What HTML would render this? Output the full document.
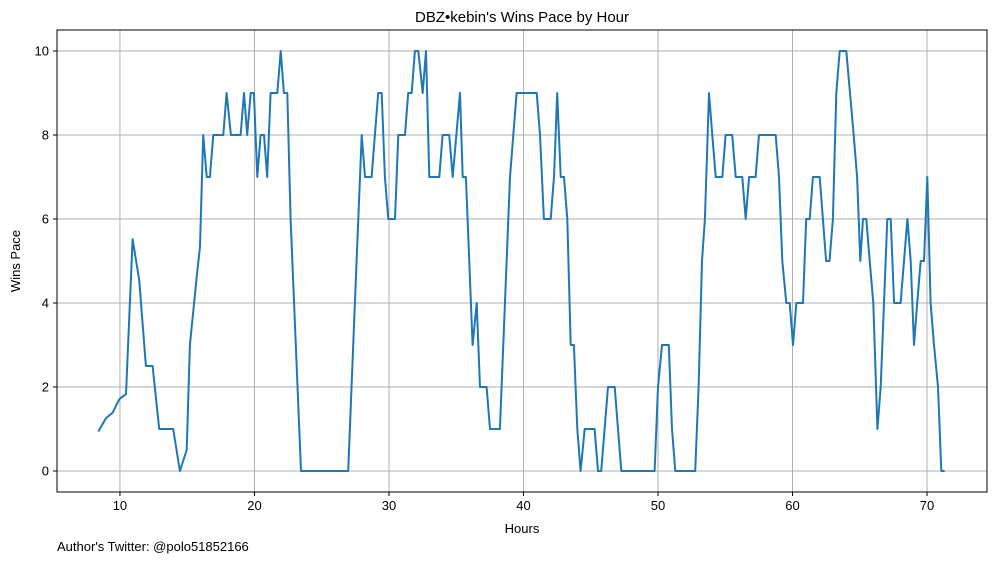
<!DOCTYPE html>
<html><head><meta charset="utf-8"><style>
body{margin:0;background:#fff;}
svg text{font-family:"Liberation Sans","DejaVu Sans",sans-serif;fill:#000;}
</style></head><body>
<svg id="chart" width="997" height="562" xmlns="http://www.w3.org/2000/svg">
<rect width="997" height="562" fill="#fff"/>
<g id="grid"></g>
<g id="ticks"></g>
<polyline id="line" fill="none" stroke="#1f77b4" stroke-width="2" stroke-linejoin="round"/>
<rect x="57" y="30" width="930" height="462" fill="none" stroke="#000" stroke-width="1"/>
<text x="522" y="22" font-size="15" text-anchor="middle">DBZ•kebin's Wins Pace by Hour</text>
<text x="522" y="533" font-size="13" text-anchor="middle">Hours</text>
<text x="20" y="261" font-size="13" text-anchor="middle" transform="rotate(-90 20 261)">Wins Pace</text>
<text x="57" y="551" font-size="13">Author's Twitter: @polo51852166</text>
</svg>
<script>
const hours=[8.39,8.96,9.46,9.95,10.45,10.94,11.43,11.93,12.43,12.92,13.96,14.46,14.96,15.2,15.7,15.95,16.19,16.45,16.69,16.94,17.68,17.93,18.25,18.97,19.22,19.46,19.72,19.96,20.21,20.46,20.71,20.95,21.2,21.7,21.95,22.19,22.44,22.69,23.46,26.97,27.23,27.47,27.72,27.97,28.22,28.71,29.2,29.46,29.7,29.95,30.45,30.69,31.19,31.43,31.69,31.93,32.18,32.51,32.75,33.0,33.74,33.99,34.48,34.74,35.28,35.48,35.72,36.22,36.52,36.77,37.26,37.51,38.25,39.0,39.49,40.98,41.23,41.52,42.02,42.27,42.51,42.77,43.01,43.26,43.51,43.75,44.0,44.25,44.55,45.29,45.54,45.78,46.28,46.78,47.27,49.75,50.0,50.3,50.8,51.04,51.29,52.77,53.02,53.27,53.49,53.79,54.04,54.29,54.78,55.03,55.52,55.78,56.27,56.52,56.77,57.26,57.51,58.75,59.0,59.24,59.54,59.79,60.04,60.28,60.78,61.02,61.28,61.52,62.02,62.26,62.5,62.75,63.0,63.26,63.51,64.0,64.55,64.8,65.04,65.24,65.49,65.74,66.01,66.31,66.56,66.8,67.05,67.3,67.55,68.04,68.29,68.54,68.79,69.03,69.27,69.53,69.78,70.02,70.27,70.52,70.82,71.06,71.31];
const winsPace=[0.94,1.26,1.39,1.71,1.83,5.52,4.55,2.5,2.5,1,1,0,0.5,3,4.6,5.34,8,7,7,8,8,9,8,8,9,8,9,9,7,8,8,7,9,9,10,9,9,6,0,0,2.1,4,6,8,7,7,9,9,7,6,6,8,8,9,9,10,10,9,10,7,7,8,8,7,9,7,7,3,4,2,2,1,1,7,9,9,8,6,6,7,9,7,7,6,3,3,1,0,1,1,0,0,2,2,0,0,2,3,3,1,0,0,2,5,6,9,8,7,7,8,8,7,7,6,7,7,8,8,7,5,4,4,3,4,4,6,6,7,7,6,5,5,6,9,10,10,8,7,5,6,6,5,4,1,2,4,6,6,4,4,5,6,5,3,4,5,5,7,4,3,2,0,0];
const xTicks=[10,20,30,40,50,60,70];
const yTicks=[0,2,4,6,8,10];
const L=57,R=987,T=30,B=492,X0=5.32,X1=74.46,Y0=-0.5,Y1=10.5;
const sx=h=>L+(h-X0)/(X1-X0)*(R-L);
const sy=v=>B-(v-Y0)/(Y1-Y0)*(B-T);
const NS="http://www.w3.org/2000/svg";
const grid=document.getElementById('grid'),ticks=document.getElementById('ticks');
function mk(tag,attrs,parent){const e=document.createElementNS(NS,tag);for(const k in attrs)e.setAttribute(k,attrs[k]);parent.appendChild(e);return e;}
xTicks.forEach(t=>{const x=sx(t);
 const g=mk('line',{x1:x,x2:x,y1:T,y2:B,stroke:'#b0b0b0','stroke-width':1},grid);
 
 
 mk('line',{x1:x,x2:x,y1:B,y2:B+4,stroke:'#000'},ticks);
 const tx=mk('text',{x:x,y:B+18,'font-size':13,'text-anchor':'middle'},ticks);tx.textContent=t;
 
 
});
yTicks.forEach(t=>{const y=sy(t);
 const g=mk('line',{x1:L,x2:R,y1:y,y2:y,stroke:'#b0b0b0','stroke-width':1},grid);
 
 
 mk('line',{x1:L-4,x2:L,y1:y,y2:y,stroke:'#000'},ticks);
 const tx=mk('text',{x:L-8,y:y+4.5,'font-size':13,'text-anchor':'end'},ticks);tx.textContent=t;
 
 
});
document.getElementById('line').setAttribute('points',hours.map((h,i)=>sx(h).toFixed(1)+','+sy(winsPace[i]).toFixed(1)).join(' '));
</script>
</body></html>
